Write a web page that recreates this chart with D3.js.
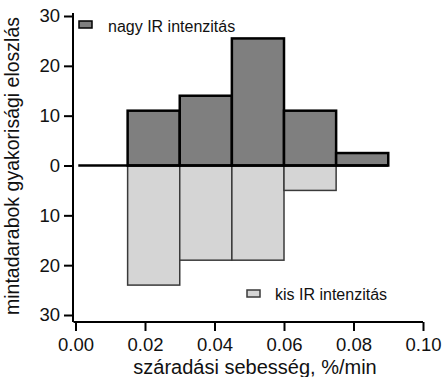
<!DOCTYPE html>
<html>
<head>
<meta charset="utf-8">
<script src="https://cdn.jsdelivr.net/npm/d3@7"></script>
<style>
  body { margin: 0; background: #fff; }
  text { font-family: "Liberation Sans", Arial, sans-serif; fill: #111; }
</style>
</head>
<body>
<svg id="hist" width="445" height="377"></svg>
<script>
// bin edges (%/min)
const binStart = [0.015, 0.030, 0.045, 0.060, 0.075]
const binWidth = 0.015
// counts
const nagy = [11, 14, 25.5, 11, 2.5]
const kis = [24, 19, 19, 5, 0]
const xTicks = [0, 0.02, 0.04, 0.06, 0.08, 0.10]
const yTicks = [30, 20, 10, 0, -10, -20, -30]

const svg = d3.select('svg#hist')

const x = d3.scaleLinear().domain([0, 0.10]).range([75.5, 423])
const y = d3.scaleLinear().domain([30, -30]).range([16, 315])

// lower (kis) bars
svg.append('g')
  .selectAll('rect')
  .data(kis.map((v, i) => ({x0: binStart[i], v})).filter(d => d.v > 0))
  .enter()
    .append('rect')
      .attr('x', d => x(d.x0))
      .attr('y', y(0))
      .attr('width', x(binWidth) - x(0))
      .attr('height', d => y(-d.v) - y(0))
      .attr('fill', '#d5d5d5')
      .attr('stroke', '#3a3a3a')
      .attr('stroke-width', 1.5)

// upper (nagy) bars
svg.append('g')
  .selectAll('rect')
  .data(nagy.map((v, i) => ({x0: binStart[i], v})))
  .enter()
    .append('rect')
      .attr('x', d => x(d.x0))
      .attr('y', d => y(d.v))
      .attr('width', x(binWidth) - x(0))
      .attr('height', d => y(0) - y(d.v))
      .attr('fill', '#7f7f7f')
      .attr('stroke', '#000')
      .attr('stroke-width', 2.5)

// zero line
svg.append('line')
  .attr('x1', x(0.0008)).attr('x2', x(binStart[binStart.length - 1] + binWidth))
  .attr('y1', y(0)).attr('y2', y(0))
  .attr('stroke', '#000').attr('stroke-width', 2.5)

// y axis
const yAxis = svg.append('g')
  .attr('transform', 'translate(73,0)')
  .call(d3.axisLeft(y).tickValues(yTicks).tickSize(9).tickPadding(4)
    .tickFormat(d => Math.abs(d)))
yAxis.select('.domain').attr('d', `M0,${y(30) - 3}V322`).attr('stroke-width', 2)
yAxis.selectAll('.tick line').attr('stroke-width', 2)
yAxis.selectAll('text').style('font-size', '18.5px').attr('fill', '#111')

// x axis
const xAxis = svg.append('g')
  .attr('transform', 'translate(0,322)')
  .call(d3.axisBottom(x).tickValues(xTicks).tickSize(9).tickPadding(7)
    .tickFormat(d3.format('.2f')))
xAxis.select('.domain').attr('d', `M${x(0) - 2},0H${x(0.1)}`).attr('stroke-width', 2)
xAxis.selectAll('.tick line').attr('stroke-width', 2)
xAxis.selectAll('text').style('font-size', '18.5px').attr('fill', '#111')

// axis titles
svg.append('text')
  .attr('x', 255).attr('y', 374)
  .attr('text-anchor', 'middle')
  .style('font-size', '20px')
  .text('száradási sebesség, %/min')

svg.append('text')
  .attr('transform', 'translate(19,166) rotate(-90)')
  .attr('text-anchor', 'middle')
  .style('font-size', '19.5px')
  .text('mintadarabok gyakorisági eloszlás')

// legends
const legend = [
  {label: 'nagy IR intenzitás', fill: '#7f7f7f', stroke: '#000', sx: 79, sy: 21, tx: 108, ty: 32},
  {label: 'kis IR intenzitás', fill: '#d5d5d5', stroke: '#3a3a3a', sx: 247, sy: 290, tx: 275, ty: 300}
]
const lg = svg.append('g').selectAll('g').data(legend).enter().append('g')
lg.append('rect')
  .attr('x', d => d.sx).attr('y', d => d.sy)
  .attr('width', 13).attr('height', 7)
  .attr('fill', d => d.fill).attr('stroke', d => d.stroke).attr('stroke-width', 1.5)
lg.append('text')
  .attr('x', d => d.tx).attr('y', d => d.ty)
  .style('font-size', '16px')
  .text(d => d.label)
</script>
</body>
</html>
